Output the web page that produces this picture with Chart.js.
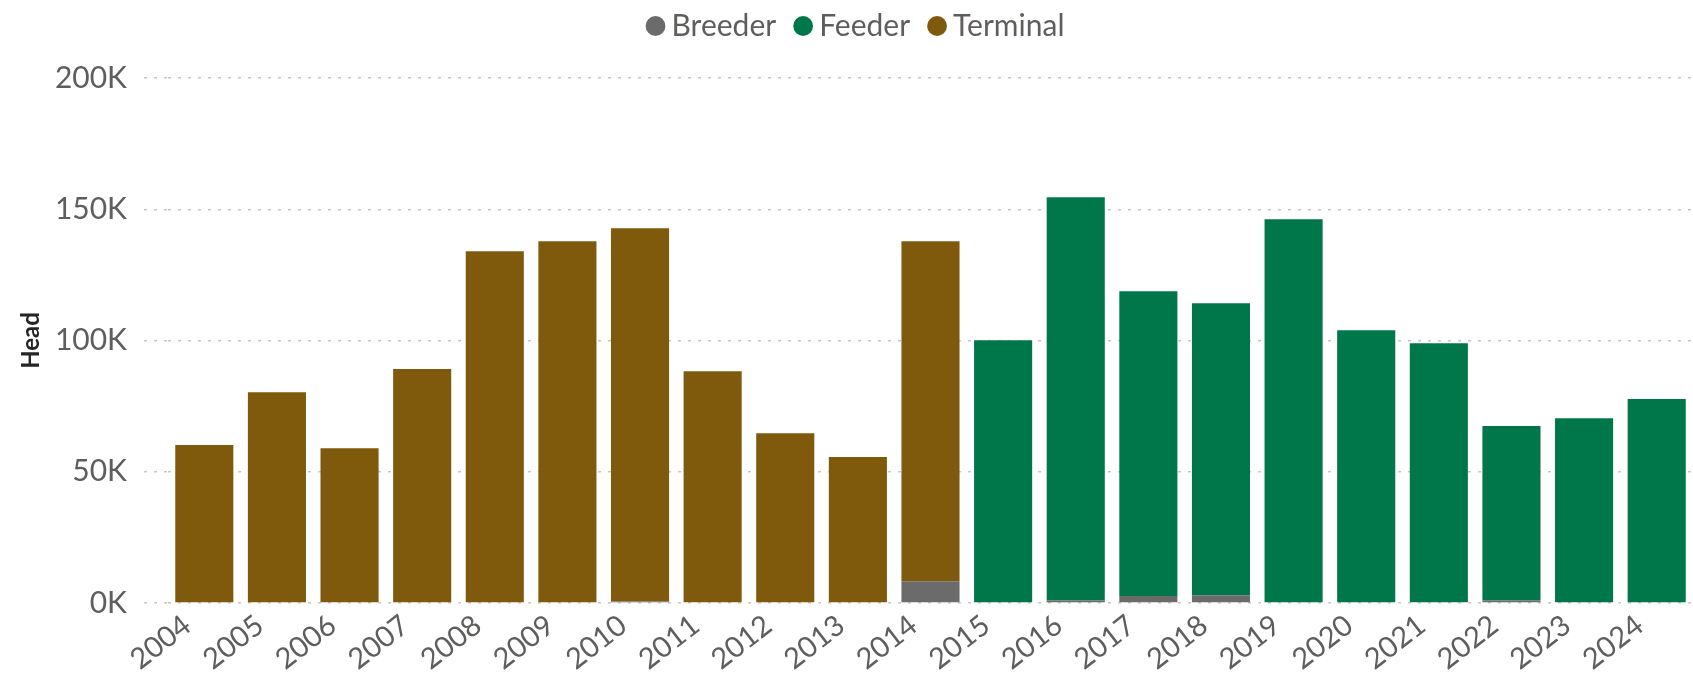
<!DOCTYPE html>
<html>
<head>
<meta charset="utf-8">
<script src="https://cdn.jsdelivr.net/npm/chart.js@4/dist/chart.umd.min.js"></script>
<style>
  html, body { margin: 0; padding: 0; background: #ffffff; }
  #wrap { width: 1693px; height: 677px; }
</style>
</head>
<body>
<div id="wrap"><canvas id="c" width="1693" height="677"></canvas></div>
<script>
const years = ['2004','2005','2006','2007','2008','2009','2010','2011','2012','2013','2014',
               '2015','2016','2017','2018','2019','2020','2021','2022','2023','2024'];
const breeder  = [null, null, null, null, null, 300, 600, null, null, 300, 8300,
                  null, 1000, 2700, 3000, null, 300, null, 1000, null, 300];
const feeder   = [null, null, null, null, null, null, null, null, null, null, null,
                  100100, 153600, 116100, 111200, 146200, 103600, 99000, 66400, 70400, 77400];
const terminal = [60200, 80300, 59000, 89100, 134000, 137500, 142200, 88300, 64700, 55300, 129500,
                  null, null, null, null, null, null, null, null, null, null];
const yTicks = [0, 50000, 100000, 150000, 200000];

const textGray = '#605E5C';
const gridGray = '#C8C6C4';

const legendTweak = {
  id: 'legendTweak',
  beforeInit(chart) {
    const origFit = chart.legend.fit;
    chart.legend.fit = function () {
      origFit.bind(this)();
      this.height += 27;
      if (this.lineWidths && this.lineWidths.length) {
        this.lineWidths[0] -= 26;
      }
    };
  }
};

new Chart(document.getElementById('c'), {
  type: 'bar',
  data: {
    labels: years,
    datasets: [
      { label: 'Breeder',  data: breeder,  backgroundColor: '#6B6B6B' },
      { label: 'Feeder',   data: feeder,   backgroundColor: '#00774A' },
      { label: 'Terminal', data: terminal, backgroundColor: '#7F5A0C' }
    ]
  },
  options: {
    responsive: false,
    animation: false,
    devicePixelRatio: 1,
    layout: { padding: { left: 0, right: 0, top: -15, bottom: 0 } },
    datasets: { bar: { categoryPercentage: 1.0, barPercentage: 0.8 } },
    plugins: {
      tooltip: { enabled: false },
      legend: {
        position: 'top',
        align: 'center',
        labels: {
          usePointStyle: true,
          pointStyle: 'circle',
          boxWidth: 2,
          boxHeight: 14,
          padding: 26,
          color: textGray,
          font: { family: 'Lato', size: 30 }
        }
      }
    },
    scales: {
      x: {
        stacked: true,
        grid: { display: false, drawTicks: false },
        border: { display: false },
        afterFit(scale) { scale.height = 74; },
        ticks: {
          autoSkip: false,
          minRotation: 38,
          maxRotation: 38,
          padding: 5,
          labelOffset: -17,
          color: textGray,
          font: { family: 'Lato', size: 29 }
        }
      },
      y: {
        stacked: true,
        min: 0,
        max: 200000,
        afterFit(scale) { scale.width = 168; },
        afterBuildTicks(scale) { scale.ticks = yTicks.map(v => ({ value: v })); },
        border: { display: false, dash: [3, 7] },
        grid: {
          color: gridGray,
          lineWidth: 1.5,
          drawTicks: true,
          tickLength: 24,
          tickColor: gridGray,
          tickWidth: 1.5,
          tickBorderDash: [3, 7]
        },
        ticks: {
          padding: 17,
          color: textGray,
          font: { family: 'Lato', size: 30 },
          callback: (v) => (v / 1000) + 'K'
        },
        title: {
          display: true,
          text: 'Head',
          color: '#252423',
          font: { family: 'Lato', size: 24, weight: 'bold' },
          padding: { top: 17, bottom: 0 }
        }
      }
    }
  },
  plugins: [legendTweak]
});
</script>
</body>
</html>
